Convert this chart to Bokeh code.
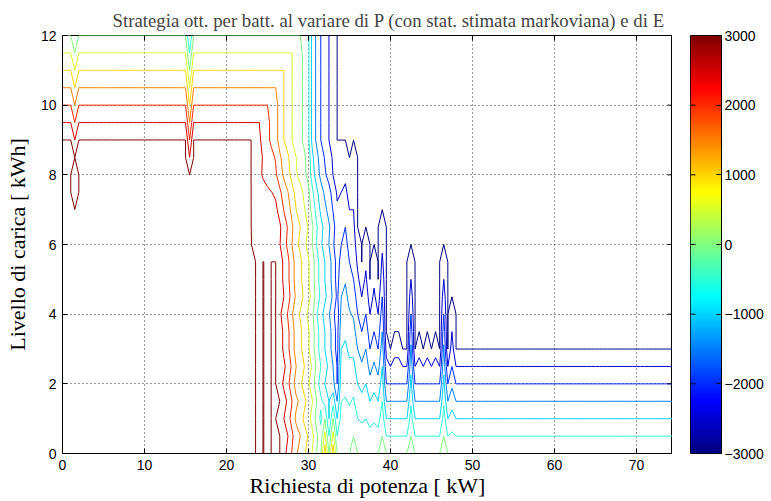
import numpy as np
from bokeh.plotting import figure
from bokeh.layouts import row
from bokeh.models import LinearColorMapper, FixedTicker
from bokeh.embed import file_html
from bokeh.resources import INLINE

# ---------------- data ----------------
power_step = 0.5          # kW grid of the strategy table
energy_step = 0.5         # kWh grid
p_max = 74.5
e_max = 12.0
charge_limit = 3000.0     # W

# columns of the transition zone, P = 22.0 ... 48.0 (step 0.5)
mid_p = [22.0, 22.5, 23.0, 23.5, 24.0, 24.5, 25.0, 25.5, 26.0, 26.5, 27.0, 27.5,
         28.0, 28.5, 29.0, 29.5, 30.0, 30.5, 31.0, 31.5, 32.0, 32.5, 33.0, 33.5,
         34.0, 34.5, 35.0, 35.5, 36.0, 36.5, 37.0, 37.5, 38.0, 38.5, 39.0, 39.5,
         40.0, 40.5, 41.0, 41.5, 42.0, 42.5, 43.0, 43.5, 44.0, 44.5, 45.0, 45.5,
         46.0, 46.5, 47.0, 47.5, 48.0]
# strategy at middle battery levels
setpoint_mid = [3000, 3000, 3000, 3000, 2990, 3000, 2990, 3000, 3000, 2750, 2400, 2100,
                1700, 1300, 1100, 800, 550, 200, -300, -700, -1000, -1300, -1700, -2200,
                -2700, -3000, -3000, -3000, -3000, -3000, -3000, -3000, -3000, -3000, -3000, -3000,
                -3000, -3000, -3000, -3000, -3000, -3000, -3000, -3000, -3000, -3000, -3000, -3000,
                -3000, -3000, -3000, -3000, -3000]
# strategy at a nearly full battery
setpoint_top = [3000, 3000, 3000, 2800, 2600, 2300, 2100, 1900, 1700, 1300, 1000, 800,
                500, 300, 100, -100, -400, -1200, -1600, -2000, -2300, -2500, -2800, -3000,
                -3000, -3000, -3000, -3000, -3000, -3000, -3000, -3000, -3000, -3000, -3000, -3000,
                -3000, -3000, -3000, -3000, -3000, -3000, -3000, -3000, -3000, -3000, -3000, -3000,
                -3000, -3000, -3000, -3000, -3000]
# battery level where the discharge limit is zero / -2000 W / -3000 W
floor_offset = [0, 0, 0, 0, 0, 0, 0, 0, 0, 0, 0, 0,
                0, 0, 0, 0, 0, 0, 0, 0, 1.0, 0, 1.0, 0,
                0, 0, 0, 0.5, 0, 0, 0, 0, 0, 0, 0.5, 0,
                0, 0, 0, 0, 0, 0.5, 0, 0, 0, 0, 0, 0,
                0, 0.5, 0, 0, 0]
floor_mid = [2, 2, 2, 2, 2, 2, 2, 2, 2, 2, 2, 2,
             2, 2, 2, 2, 2, 2, 2, 2, 2.5, 2, 2.5, 2,
             6, 6.5, 5.5, 5, 4, 3.5, 4, 3, 3.5, 3, 4.5, 2,
             2, 2, 2, 2, 2, 4, 2, 2, 2, 2, 2, 2,
             2, 4, 2, 2.5, 2]
floor_height = [3, 3, 3, 3, 3, 3, 3, 3, 3, 3, 3, 3,
                3, 3, 3, 3, 3, 3, 3, 3, 3, 3, 3, 3,
                9, 9, 8.5, 9, 6.5, 5.5, 6.5, 5, 6, 5, 7, 3.5,
                3, 3.5, 3.5, 3, 3, 6, 3, 3.5, 3, 3.5, 3, 3.5,
                3, 6, 3, 4.5, 3]
# per battery level (E = 0 ... 12, step 0.5): weight of the "full battery" profile
top_weight = [0, 0, 0, 0, 0, 0, 0, 0, 0, 0, 0, 0, 0.05,
              0.15, 0.3, 0.45, 0.6, 0.8, 1, 1, 1, 1, 1, 1, 1]
# per battery level wobble of the transition
row_jitter = [250, 400, 100, 300, 0, 200, 0, 0, -150, 100, 0, 0, -150,
              50, 0, 0, -150, 0, 0, 0, 0, 0, 0, 0, 0]
# columns where the charge limit dips
dip_p = [1.5, 15.5]
dip_depth = [0.5, 1.0]
# small closed pocket
pocket_p = [1.5]
pocket_e_from = [7.5]
pocket_e_to = [8.0]
pocket_value = [2900]

levels = [-3000, -2500, -2000, -1500, -1000, -500, 0, 500, 1000, 1500, 2000, 2500, 3000]
x_ticks = [0, 10, 20, 30, 40, 50, 60, 70]
y_ticks = [0, 2, 4, 6, 8, 10, 12]
cbar_ticks = [-3000, -2000, -1000, 0, 1000, 2000, 3000]

# ---------------- build the table ----------------
P = np.arange(0, p_max + 1e-9, power_step)
E = np.arange(0, e_max + 1e-9, energy_step)
nP, nE = len(P), len(E)
mid_p_a = np.array(mid_p)

Z = np.zeros((nE, nP))
for j, pv in enumerate(P):
    k = np.where(np.isclose(mid_p_a, pv))[0]
    if pv < mid_p[0]:
        Sm, St, d, m, f = charge_limit, charge_limit, 0.0, 2.0, 3.0
    elif pv > mid_p[-1]:
        Sm, St, d, m, f = -charge_limit, -charge_limit, 0.0, 2.0, 3.0
    else:
        i = int(k[0])
        Sm, St = float(setpoint_mid[i]), float(setpoint_top[i])
        d, m, f = float(floor_offset[i]), float(floor_mid[i]), float(floor_height[i])
    h = 0.0
    for dp, dd in zip(dip_p, dip_depth):
        if np.isclose(dp, pv):
            h = dd
    for r, ev in enumerate(E):
        w = top_weight[r]
        s = (1 - w) * Sm + w * St
        if -2950 < s < 2950:
            s = float(np.clip(s + row_jitter[r], -charge_limit, charge_limit))
        hi = 1000.0 * (e_max - h - ev)
        if ev <= m:
            lo = -2000.0 * (ev - d) / (m - d)
        else:
            lo = -2000.0 - 1000.0 * (ev - m) / (f - m)
        Z[r, j] = min(max(s, lo), hi)
    for pp, e0, e1, pvv in zip(pocket_p, pocket_e_from, pocket_e_to, pocket_value):
        if np.isclose(pp, pv):
            for r, ev in enumerate(E):
                if e0 - 1e-9 <= ev <= e1 + 1e-9:
                    Z[r, j] = pvv


def jet(x):
    r = np.clip(min(4 * x - 1.5, -4 * x + 4.5), 0, 1)
    g = np.clip(min(4 * x - 0.5, -4 * x + 3.5), 0, 1)
    b = np.clip(min(4 * x + 0.5, -4 * x + 2.5), 0, 1)
    return "#%02x%02x%02x" % (int(round(r * 255)), int(round(g * 255)), int(round(b * 255)))


lo_c, hi_c = -3000.0, 3000.0
level_colors = [jet((L - lo_c) / (hi_c - lo_c)) for L in levels]
eff_levels = [L - 1 if L > 0 else (L + 1 if L < 0 else 1) for L in levels]
order = np.argsort(eff_levels)
eff_levels = [eff_levels[i] for i in order]
level_colors = [level_colors[i] for i in order]
palette = [jet(i / 255.0) for i in range(256)]

# ---------------- main figure ----------------
SERIF = "Liberation Serif"
SANS = "Liberation Sans"
X_END = 74.4
FRAME_W, FRAME_H = 610, 418

p = figure(frame_width=FRAME_W, frame_height=FRAME_H, output_backend="svg", toolbar_location=None,
           x_range=(0, X_END), y_range=(0, e_max),
           min_border_left=62, min_border_top=35, min_border_right=0, min_border_bottom=0)
p.title.text = "Strategia ott. per batt. al variare di P (con stat. stimata markoviana) e di E"
p.title.text_font = SERIF
p.title.text_font_size = "18.8px"
p.title.text_font_style = "normal"
p.title.align = "left"
p.title.offset = 50
p.title.standoff = 10

p.contour(P, E, Z, eff_levels, line_color=level_colors, line_width=1, fill_color=None)

p.outline_line_color = "black"
p.outline_line_width = 1
p.background_fill_color = "white"
p.border_fill_color = "white"

for ax in (p.xaxis[0], p.yaxis[0]):
    ax.major_tick_in = 5
    ax.major_tick_out = 0
    ax.minor_tick_line_color = None
    ax.axis_line_color = "black"
    ax.major_tick_line_color = "black"
    ax.major_label_text_font = SANS
    ax.major_label_text_font_size = "14px"
    ax.major_label_text_color = "black"
    ax.axis_label_text_font = SERIF
    ax.axis_label_text_font_style = "normal"
    ax.axis_label_text_font_size = "22px"
    ax.axis_label_text_color = "black"
p.xaxis[0].ticker = FixedTicker(ticks=x_ticks)
p.yaxis[0].ticker = FixedTicker(ticks=y_ticks)
p.xaxis[0].axis_label = "Richiesta di potenza [ kW]"
p.yaxis[0].axis_label = "Livello di carica [ kWh]"
p.xaxis[0].major_label_standoff = 6
p.yaxis[0].major_label_standoff = 6
p.xaxis[0].axis_label_standoff = 0
p.yaxis[0].axis_label_standoff = 8

p.xgrid.ticker = FixedTicker(ticks=x_ticks)
p.ygrid.ticker = FixedTicker(ticks=y_ticks)
for g in (p.xgrid[0], p.ygrid[0]):
    g.grid_line_color = "#333333"
    g.grid_line_dash = "1 3"
    g.grid_line_width = 1

# mirrored tick marks on the top and right edges
tick_dy = 5.0 * e_max / FRAME_H
tick_dx = 5.0 * X_END / FRAME_W
p.segment(x0=x_ticks, y0=[e_max] * len(x_ticks), x1=x_ticks, y1=[e_max - tick_dy] * len(x_ticks),
          line_color="black", line_width=1)
p.segment(x0=[X_END] * len(y_ticks), y0=y_ticks, x1=[X_END - tick_dx] * len(y_ticks), y1=y_ticks,
          line_color="black", line_width=1)

# ---------------- colour bar ----------------
mapper = LinearColorMapper(palette=palette, low=-3000, high=3000)
cb = figure(frame_width=31, frame_height=FRAME_H, output_backend="svg", toolbar_location=None,
            x_range=(0, 1), y_range=(-3000, 3000), y_axis_location="right",
            min_border_left=18, min_border_top=35, min_border_right=2, min_border_bottom=20)
grad = np.linspace(-3000, 3000, 256).reshape(256, 1)
cb.image(image=[grad], x=0, y=-3000, dw=1, dh=6000, color_mapper=mapper)
cb.xaxis.visible = False
cb.xgrid.visible = False
cb.ygrid.visible = False
cb.outline_line_color = "black"
cb.outline_line_width = 1
cax = cb.yaxis[0]
cax.ticker = FixedTicker(ticks=cbar_ticks)
cax.major_label_overrides = {t: (str(t) if t >= 0 else "\u2212" + str(-t)) for t in cbar_ticks}
cax.major_tick_in = 5
cax.major_tick_out = 0
cax.minor_tick_line_color = None
cax.axis_line_color = "black"
cax.major_label_text_font = SANS
cax.major_label_text_font_size = "14px"
cax.major_label_text_color = "black"
cax.major_label_standoff = 3
cb.segment(x0=[0] * len(cbar_ticks), y0=cbar_ticks, x1=[5.0 / 31] * len(cbar_ticks), y1=cbar_ticks,
           line_color="black", line_width=1)

layout = row(p, cb)
open("out.html", "w").write(file_html(layout, INLINE))
